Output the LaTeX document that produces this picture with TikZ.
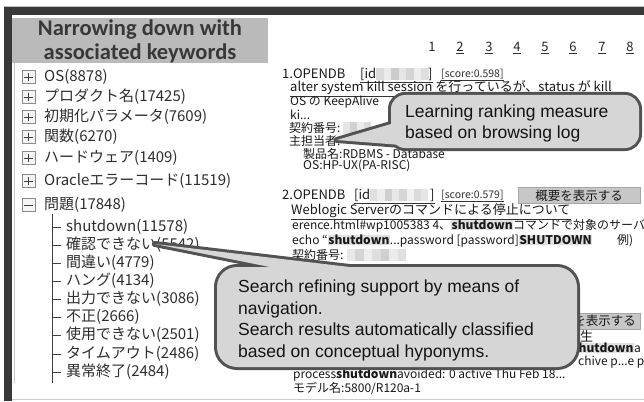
\documentclass[tikz,border=0pt]{standalone}
\usepackage{fontspec}
\setmainfont{Liberation Sans}
\newfontfamily\jp{Noto Sans CJK JP}
\newfontfamily\hdrfont{Carlito}
\newcommand\hlbold[1]{{\setlength\fboxsep{0.5pt}\colorbox{black!12}{\bfseries #1}}}
\begin{document}
\begin{tikzpicture}[x=1pt,y=-1pt,
  lst/.style={anchor=west,inner sep=0pt,text=black!82,font=\jp\fontsize{15}{17}\selectfont},
  ttl/.style={anchor=west,inner sep=0pt,text=black!90,font=\jp\fontsize{13}{14}\selectfont},
  res/.style={anchor=west,inner sep=0pt,text=black!90,font=\jp\fontsize{12}{13}\selectfont},
  sml/.style={anchor=west,inner sep=0pt,text=black!80,font=\jp\fontsize{10.5}{12}\selectfont},
  pg/.style={inner sep=0pt,text=black!85,font=\jp\fontsize{13}{14}\selectfont},
  cotext/.style={anchor=west,inner sep=0pt,align=left,text=black!92},
  expbox/.style={draw=black!45,fill=black!4,minimum size=13pt,inner sep=0pt},
  tree/.style={draw=black!75,line width=0.8pt},
  uline/.style={draw=black!80,line width=0.6pt},
  btn/.style={fill=black!22,draw=black!35,inner sep=0pt,font=\jp\fontsize{12.5}{14}\selectfont,text=black!90},
  costroke/.style={draw=black!68,line width=6pt,line join=round,outer sep=0pt},
  cofill/.style={fill=black!16},
]
\useasboundingbox (0,0) rectangle (644,401);
\fill[white] (0,0) rectangle (644,401);

% ---------- window frame ----------
\draw[black!25,line width=0.8pt] (4,6.5) -- (644,6.5);
\fill[black!78] (4,7) rectangle (644,15);
\fill[black!78] (4,7) rectangle (12,401);
\draw[black!20] (12,399.5) -- (644,399.5);
\draw[black!22] (14,63) -- (14,383);

% ---------- header ----------
\node[fill=black!27,minimum width=256pt,minimum height=45pt,inner sep=0pt] (hdr) at (140,40.5) {};
\node[font=\hdrfont\bfseries\fontsize{22.5}{24}\selectfont,text=black!78,align=center,inner sep=0pt] (hdrtxt) at (140,41) {Narrowing down with\\associated keywords};

% ---------- keyword tree ----------
\foreach \yy/\tt/\nn in {77/OS(8878)/kos,97/プロダクト名(17425)/kprod,117/初期化パラメータ(7609)/kinit,137/関数(6270)/kfunc,158/ハードウェア(1409)/khw,181/Oracleエラーコード(11519)/kora}{
  \node[expbox] (b\nn) at (28.5,\yy) {};
  \draw[black!75,line width=0.9pt] ([xshift=2.5pt]b\nn.west) -- ([xshift=-2.5pt]b\nn.east)
        ([yshift=-2.5pt]b\nn.north) -- ([yshift=2.5pt]b\nn.south);
  \node[lst] (\nn) at (44,\yy) {\tt};
}
\node[expbox] (bprob) at (28.5,205) {};
\draw[black!75,line width=0.9pt] ([xshift=2.5pt]bprob.west) -- ([xshift=-2.5pt]bprob.east);
\node[lst] (kprob) at (44,205) {問題(17848)};

\draw[tree] (52,214) -- (52,383);
\foreach \yy/\tt/\nn in {227/shutdown(11578)/sshut,245/確認できない(5542)/skaku,263/間違い(4779)/smachi,281/ハング(4134)/shang,299/出力できない(3086)/sout,317/不正(2666)/sfusei,335/使用できない(2501)/suse,354/タイムアウト(2486)/stime,372/異常終了(2484)/sijou}{
  \draw[tree] (52,\yy) -- (61,\yy);
  \node[lst] (\nn) at (66,\yy) {\tt};
}

% ---------- pagination ----------
\node[pg] (p1) at (432,47) {1};
\foreach \i/\xx in {2/460,3/489,4/517,5/545,6/573,7/602,8/630}{
  \node[pg] (p\i) at (\xx,47) {\i};
  \draw[uline] ([yshift=-1.5pt]p\i.south west) -- ([yshift=-1.5pt]p\i.south east);
}

% ---------- result 1 ----------
\node[ttl] (r1n) at (282,74) {1.OPENDB};
\node[ttl] (r1id) at (360,74) {[id\hspace{52pt}]};
\foreach \i/\c in {0/14,1/8,2/20,3/10,4/17,5/7,6/13}{\fill[black!\c] (376+\i*7.5,68) rectangle ++(7.5,12);}
\draw[uline] ([yshift=-1.5pt]r1id.south west) -- ([yshift=-1.5pt]r1id.south east);
\node[sml] (r1s) at (441,74) {[score:0.598]};
\draw[uline,line width=0.4pt] ([yshift=-1pt]r1s.south west) -- ([yshift=-1pt]r1s.south east);
\node[ttl] (r1t) at (290,88) {alter system kill session を行っているが、status が kill};
\draw[uline] ([yshift=-1pt]r1t.south west) -- ([yshift=-1pt]r1t.south east);
\node[res] (r1a) at (290,102) {OS の KeepAlive};
\node[res] (r1b) at (290,115) {ki...};
\node[res] (r1c) at (289,128) {契約番号:};
\foreach \i/\c in {0/10,1/18,2/8,3/14}{\fill[black!\c] ([xshift=2pt+\i*7pt,yshift=6pt]r1c.east) rectangle ++(7,12);}
\node[res] (shutan) at (289,141) {主担当者:};
\node[res] (r1d) at (303,154) {製品名:RDBMS - Database};
\node[res] (r1e) at (303,166) {OS:HP-UX(PA-RISC)};

% ---------- result 2 ----------
\node[ttl] (r2n) at (282,195) {2.OPENDB};
\node[ttl] (r2id) at (354,195) {[id\hspace{60pt}]};
\foreach \i/\c in {0/12,1/7,2/19,3/9,4/16,5/6,6/14,7/10}{\fill[black!\c] (370+\i*7.3,189) rectangle ++(7.3,12);}
\draw[uline] ([yshift=-1.5pt]r2id.south west) -- ([yshift=-1.5pt]r2id.south east);
\node[sml] (r2s) at (441,195) {[score:0.579]};
\draw[uline,line width=0.4pt] ([yshift=-1pt]r2s.south west) -- ([yshift=-1pt]r2s.south east);
\node[btn,minimum width=122pt,minimum height=16pt] (btn2) at (579,195.5) {概要を表示する};
\node[ttl] (r2t) at (291,211) {Weblogic Serverのコマンドによる停止について};
\draw[uline] ([yshift=-1pt]r2t.south west) -- ([yshift=-1pt]r2t.south east);
\node[res] (r2a) at (292,226) {erence.html\#wp1005383 4、\hlbold{shutdown}コマンドで対象のサーバ};
\node[res] (r2b) at (292,241) {echo “\hlbold{shutdown}...password [password]\hlbold{SHUTDOWN}};
\node[res] (r2c) at (617,241) {例)};
\node[res] (r2d) at (292,255) {契約番号:};
\foreach \i/\c in {0/9,1/17,2/7,3/13,4/19,5/8,6/12}{\fill[black!\c] ([xshift=3pt+\i*8.5pt,yshift=6pt]r2d.east) rectangle ++(8.5,12);}

% ---------- result 3 (partly hidden) ----------
\fill[black!22] (540,313) rectangle (640,329);
\draw[black!35] (540,313) -- (640,313) -- (640,329) -- (540,329);
\node[res,font=\jp\fontsize{12.5}{14}\selectfont,anchor=east] (btn3) at (636,321) {を表示する};
\node[ttl] (r3t) at (580,336) {生};
\draw[uline] ([yshift=-1pt]r3t.south west) ++(-60,0) -- ([yshift=-1pt]r3t.south east);
\node[res] (r3a) at (578,348) {\hlbold{hutdown}a};
\node[res] (r3b) at (578,362) {chive p...e p};
\node[res] (r3c) at (293,375) {process\textbf{shutdown}avoided: 0 active Thu Feb 18...};
\node[res] (r3d) at (293,388) {モデル名:5800/R120a-1};

% ---------- callout 1 ----------
\coordinate (tip1) at ([xshift=-4pt,yshift=1pt]shutan.east);
\node[costroke,rounded corners=14pt,minimum width=248pt,minimum height=53pt,inner sep=0pt] (call1) at (515,121.5) {};
\draw[costroke] (tip1) -- (408,119) -- (414,146) -- cycle;
\fill[cofill] (tip1) -- (408,119) -- (414,146) -- cycle;
\fill[cofill,rounded corners=14pt] (call1.south west) rectangle (call1.north east);
\node[cotext,font=\fontsize{17.5}{21}\selectfont] (c1txt) at (405,123.5) {Learning ranking measure\\based on browsing log};

% ---------- callout 2 ----------
\coordinate (tip2) at ([xshift=-45pt,yshift=1pt]skaku.east);
\node[costroke,rounded corners=20pt,minimum width=360pt,minimum height=100pt,inner sep=0pt] (call2) at (397,317) {};
\draw[costroke] (tip2) -- (392,272) -- (300,273) -- cycle;
\fill[cofill] (tip2) -- (392,272) -- (300,273) -- cycle;
\fill[cofill,rounded corners=20pt] (call2.south west) rectangle (call2.north east);
\node[cotext,font=\fontsize{17.5}{21.7}\selectfont] (c2txt) at (238,320.5) {Search refining support by means of\\navigation.\\Search results automatically classified\\based on conceptual hyponyms.};
\end{tikzpicture}
\end{document}
